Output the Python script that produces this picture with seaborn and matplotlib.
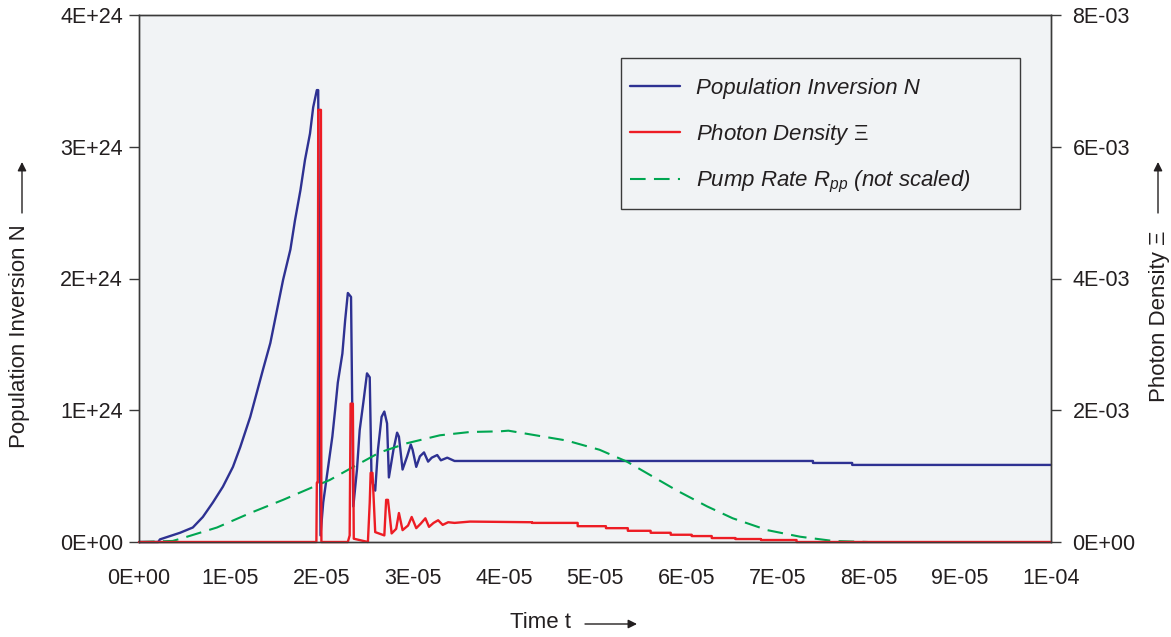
import numpy as np
import pandas as pd
import matplotlib
matplotlib.use("Agg")
import matplotlib.pyplot as plt
import seaborn as sns
from matplotlib.ticker import FuncFormatter
from matplotlib.patches import Rectangle, FancyArrowPatch

# ---------------- data ----------------
# Population inversion N  (time in microseconds, N in 1e24)
blue_t_us = [0, 2.1, 2.3, 4.5, 5.9, 7.0, 8.1, 9.2, 10.3, 11.1, 12.2, 12.9, 13.6, 14.4,
             15.1, 15.8, 16.6, 17.1, 17.7, 18.2, 18.75, 19.1, 19.5, 19.65, 19.9,
             20.2, 20.7, 21.2, 21.5, 21.8, 22.3, 22.6, 22.9, 23.25, 23.5,
             23.9, 24.2, 24.6, 25.0, 25.3, 25.5, 25.9, 26.2, 26.6, 26.9, 27.2, 27.4,
             27.9, 28.3, 28.5, 28.9, 29.4, 29.8, 30.0, 30.4, 30.8, 31.25, 31.7, 32.1,
             32.7, 33.1, 33.8, 34.6, 73.9, 73.9, 78.2, 78.2, 100.0]
blue_n_e24 = [0, 0, 0.02, 0.07, 0.11, 0.19, 0.30, 0.42, 0.57, 0.72, 0.95, 1.13, 1.31, 1.51,
              1.75, 1.99, 2.22, 2.44, 2.67, 2.90, 3.10, 3.30, 3.43, 3.43, 0.05,
              0.30, 0.55, 0.80, 1.00, 1.21, 1.43, 1.68, 1.89, 1.86, 0.27,
              0.55, 0.85, 1.06, 1.28, 1.25, 0.47, 0.39, 0.70, 0.95, 0.99, 0.90, 0.49,
              0.70, 0.83, 0.80, 0.55, 0.65, 0.74, 0.70, 0.57, 0.65, 0.68, 0.61, 0.64,
              0.66, 0.62, 0.64, 0.615, 0.615, 0.60, 0.60, 0.585, 0.585]

# Photon density Xi  (time in microseconds, Xi in 1e-3)
red_t_us = [0, 19.45, 19.5, 19.6, 19.65, 19.95, 20.0, 22.9, 23.1, 23.2, 23.45, 23.55,
            25.1, 25.3, 25.4, 25.6, 25.9, 26.9, 27.1, 27.3, 27.7, 28.2, 28.5, 28.9,
            29.5, 29.9, 30.4, 30.9, 31.4, 31.8, 32.3, 32.8, 33.3, 33.9, 34.6, 36.3,
            43.1, 43.1, 48.1, 48.1, 51.2, 51.2, 53.6, 53.6, 56.1, 56.1, 58.3, 58.3,
            60.6, 60.6, 62.8, 62.8, 65.4, 65.4, 68.2, 68.2, 72.1, 72.1, 100.0]
red_xi_e3 = [0, 0, 0.9, 0.9, 6.56, 6.56, 0, 0, 0.1, 2.1, 2.1, 0.05,
             0, 0.6, 1.05, 1.05, 0.15, 0.1, 0.64, 0.64, 0.13, 0.2, 0.44, 0.18,
             0.25, 0.38, 0.21, 0.28, 0.36, 0.23, 0.29, 0.33, 0.26, 0.30, 0.29, 0.31,
             0.30, 0.29, 0.29, 0.24, 0.24, 0.21, 0.21, 0.17, 0.17, 0.14, 0.14, 0.11,
             0.11, 0.09, 0.09, 0.06, 0.06, 0.045, 0.045, 0.03, 0.03, 0, 0]

# Pump rate (not scaled, plotted on N axis, in 1e24)
green_t_us = [0, 3.7, 4.8, 8.55, 12.2, 15.8, 19.5, 20.9, 23.5, 26.4, 29.4, 33.0, 36.3,
              39.6, 40.5, 46.9, 50.5, 53.5, 56.0, 59.0, 62.3, 65.1, 68.9, 72.5, 76.1, 79.9]
green_r_e24 = [0, 0.008, 0.03, 0.11, 0.22, 0.32, 0.43, 0.47, 0.57, 0.68, 0.75, 0.81, 0.835,
               0.84, 0.845, 0.77, 0.70, 0.61, 0.51, 0.39, 0.27, 0.18, 0.09, 0.04, 0.008, 0]

labels = ["Population Inversion N", r"Photon Density $\mathrm{\Xi}$",
          r"Pump Rate $R_{pp}$ (not scaled)"]
x_ticks = [i * 1e-5 for i in range(11)]
left_ticks = [0, 1e24, 2e24, 3e24, 4e24]
right_ticks = [0, 2e-3, 4e-3, 6e-3, 8e-3]

# ---------------- style ----------------
sns.set_style("white")
plt.rcParams["font.family"] = ["Liberation Sans", "DejaVu Sans"]
plt.rcParams["mathtext.fontset"] = "custom"
plt.rcParams["mathtext.rm"] = "Liberation Sans"
plt.rcParams["mathtext.it"] = "Liberation Sans:italic"
plt.rcParams["mathtext.bf"] = "Liberation Sans:bold"

TXT = "#231f20"
EDGE = "#3a3a3a"
BG = "#f1f3f5"
BLUE = "#2e3192"
RED = "#ed1c24"
GREEN = "#00a651"

W, H = 1171, 637
fig = plt.figure(figsize=(W / 100, H / 100), dpi=100)
L, R, T, B = 139, 1051, 15, 542
ax = fig.add_axes([L / W, 1 - B / H, (R - L) / W, (B - T) / H])
ax.set_facecolor(BG)
ax2 = ax.twinx()
ax2.patch.set_visible(False)

df_blue = pd.DataFrame({"t": np.array(blue_t_us) * 1e-6, "v": np.array(blue_n_e24) * 1e24})
df_red = pd.DataFrame({"t": np.array(red_t_us) * 1e-6, "v": np.array(red_xi_e3) * 1e-3})
df_green = pd.DataFrame({"t": np.array(green_t_us) * 1e-6, "v": np.array(green_r_e24) * 1e24})

sns.lineplot(data=df_blue, x="t", y="v", ax=ax, color=BLUE, lw=1.7,
             estimator=None, sort=False, label=labels[0], clip_on=False)
sns.lineplot(data=df_green, x="t", y="v", ax=ax, color=GREEN, lw=1.5,
             estimator=None, sort=False, label=labels[2], linestyle=(0, (7.5, 4)))
sns.lineplot(data=df_red, x="t", y="v", ax=ax2, color=RED, lw=1.7,
             estimator=None, sort=False, label=labels[1], clip_on=False)
for a in (ax, ax2):
    if a.get_legend() is not None:
        a.get_legend().remove()

ax.set_xlim(0, 1e-4)
ax.set_ylim(0, 4e24)
ax2.set_ylim(0, 8e-3)
ax.set_xticks(x_ticks)
ax.set_yticks(left_ticks)
ax2.set_yticks(right_ticks)

fmt = FuncFormatter(lambda v, p: "%.0E" % v)
ax.xaxis.set_major_formatter(fmt)
ax.yaxis.set_major_formatter(fmt)
ax2.yaxis.set_major_formatter(fmt)
ax.set_xlabel("")
ax.set_ylabel("")
ax2.set_ylabel("")

for a in (ax, ax2):
    for s in a.spines.values():
        s.set_color(EDGE)
        s.set_linewidth(1.0)
ax.tick_params(axis="x", direction="out", length=7, width=1, color=EDGE,
               labelsize=15.5, labelcolor=TXT, pad=12)
ax.tick_params(axis="y", direction="out", length=7, width=1, color=EDGE,
               labelsize=15.5, labelcolor=TXT, pad=4.5)
ax2.tick_params(axis="y", direction="out", length=7, width=1, color=EDGE,
                labelsize=15.5, labelcolor=TXT, pad=8.5)
ax.grid(False)
ax2.grid(False)

# legend box (frame drawn separately) and entries
def ax_x(px):
    return (px - L) / (R - L)

def ax_y(py):
    return (B - py) / (B - T)

box = Rectangle((ax_x(621), ax_y(209)), ax_x(1020) - ax_x(621), ax_y(58) - ax_y(209),
                transform=ax2.transAxes, facecolor=BG, edgecolor=EDGE, lw=1.0, zorder=5)
ax2.add_patch(box)

h1, l1 = ax.get_legend_handles_labels()
h2, l2 = ax2.get_legend_handles_labels()
hd = {lab: h for h, lab in zip(h1 + h2, l1 + l2)}
leg = ax2.legend([hd[labels[0]], hd[labels[1]], hd[labels[2]]], labels,
                 loc="upper left", bbox_to_anchor=(ax_x(630), ax_y(78)),
                 borderaxespad=0, prop={"family": "Liberation Sans", "style": "italic", "size": 16},
                 handlelength=2.25, handletextpad=0.72, borderpad=0, labelspacing=1.02,
                 frameon=False)
leg.set_zorder(6)
for t in leg.get_texts():
    t.set_color(TXT)

# axis titles and arrows (figure coordinates from pixel positions)
def fx(px):
    return px / W

def fy(py):
    return 1 - py / H

fig.text(fx(20), fy(336), "Population Inversion N", rotation=90, ha="center", va="center",
         fontsize=16, color=TXT)
fig.text(fx(1160), fy(316), "Photon Density Ξ", rotation=90, ha="center", va="center",
         fontsize=16, color=TXT)
fig.text(fx(540), fy(623), "Time t", ha="center", va="center", fontsize=16, color=TXT)

arrow = dict(arrowstyle="-|>", lw=1.0, color=TXT, mutation_scale=13, shrinkA=0, shrinkB=0)
fig.add_artist(FancyArrowPatch((fx(22), fy(213)), (fx(22), fy(162)),
               transform=fig.transFigure, **arrow))
fig.add_artist(FancyArrowPatch((fx(1158), fy(213)), (fx(1158), fy(162)),
               transform=fig.transFigure, **arrow))
fig.add_artist(FancyArrowPatch((fx(585), fy(624)), (fx(637), fy(624)),
               transform=fig.transFigure, **arrow))

fig.savefig("out.png", dpi=100, facecolor="white")
